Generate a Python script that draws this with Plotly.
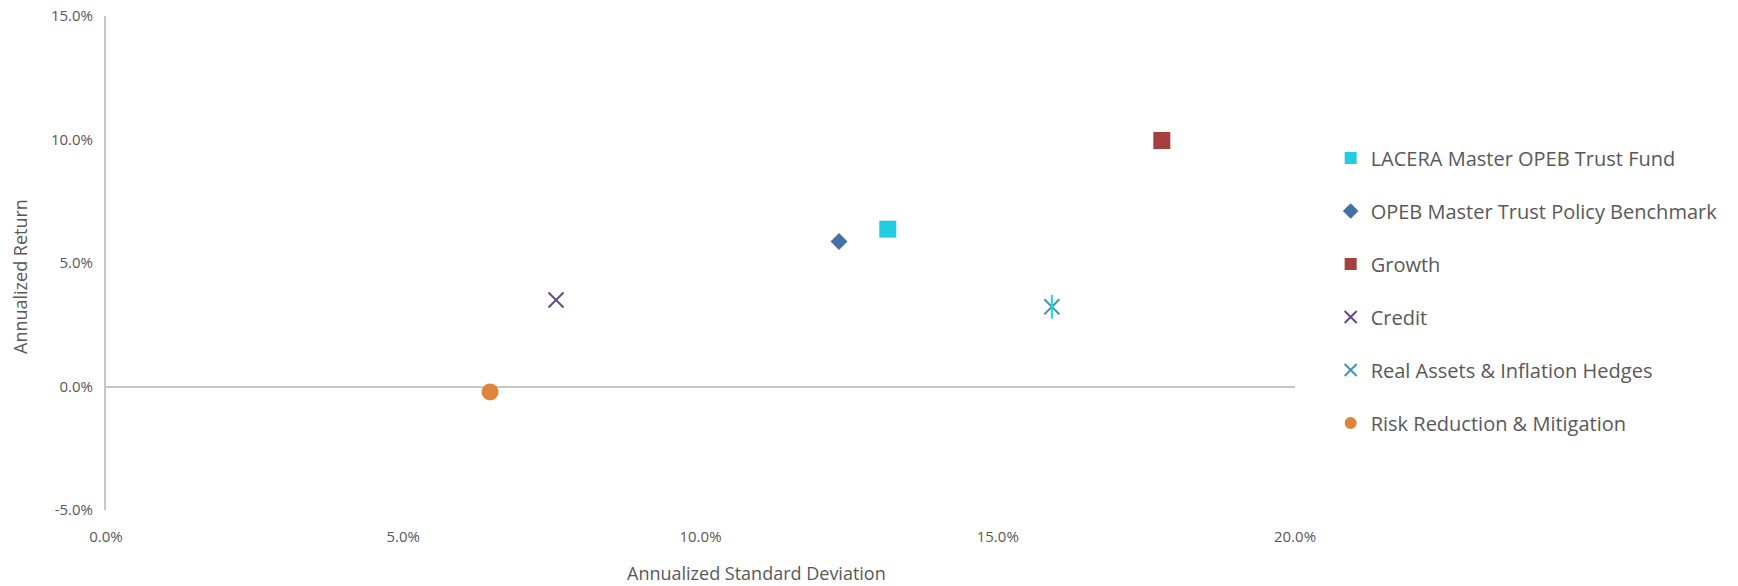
import plotly.graph_objects as go

# risk / return points (annualized std dev, annualized return)
names = ["LACERA Master OPEB Trust Fund", "OPEB Master Trust Policy Benchmark",
         "Growth", "Credit", "Real Assets & Inflation Hedges",
         "Risk Reduction & Mitigation"]
std_dev = [0.1315, 0.1233, 0.1776, 0.0757, 0.1591, 0.0646]
ret = [0.0637, 0.0587, 0.0996, 0.0350, 0.0323, -0.0022]

x_ticks = [0, 0.05, 0.10, 0.15, 0.20]
y_ticks = [-0.05, 0, 0.05, 0.10, 0.15]

colors = ["#22CCE3", "#4472A8", "#A5403F", "#654A88", "#4396AD", "#DE843C"]
symbols = ["square", "diamond", "square", "x-thin-open", "x-thin-open", "circle"]
sizes = [17, 13, 17, 15, 15, 17]

GRAY = "#595959"
LINE = "#C6C6C6"
FONT = "Open Sans"


def pct(v):
    return f"{v * 100:.1f}%"


fig = go.Figure()
for i, n in enumerate(names):
    fig.add_trace(go.Scatter(
        x=[std_dev[i]], y=[ret[i]], name=n, mode="markers", legendgroup=n,
        marker=dict(symbol=symbols[i], size=sizes[i], color=colors[i],
                    line=dict(color=colors[i], width=2 if "open" in symbols[i] else 0))
    ))
    if n.startswith("Real Assets"):
        # vertical stroke to make the star marker
        fig.add_trace(go.Scatter(
            x=[std_dev[i]], y=[ret[i]], mode="markers", showlegend=False,
            legendgroup=n, hoverinfo="skip",
            marker=dict(symbol="line-ns-open", size=sizes[i] + 2,
                        line=dict(color=colors[i], width=2))
        ))

fig.update_xaxes(range=[0, 0.2], tickvals=x_ticks, ticktext=[pct(v) for v in x_ticks],
                 showgrid=False, zeroline=False, showline=False, automargin=False,
                 ticklabelstandoff=16, ticklabeloverflow="allow",
                 tickfont=dict(family=FONT, size=15, color=GRAY))
fig.update_yaxes(range=[-0.05, 0.15], tickvals=y_ticks, ticktext=[pct(v) for v in y_ticks],
                 showgrid=False, zeroline=True, zerolinecolor=LINE, zerolinewidth=2,
                 showline=True, linecolor=LINE, linewidth=2, automargin=False,
                 ticklabelstandoff=8, ticklabeloverflow="allow",
                 tickfont=dict(family=FONT, size=15, color=GRAY))

fig.update_layout(
    width=1738, height=586,
    margin=dict(l=106, r=443, t=16, b=76),
    plot_bgcolor="white", paper_bgcolor="white",
    font=dict(family=FONT, color=GRAY),
    showlegend=True,
    legend=dict(x=1.03, y=0.752, xanchor="left", yanchor="top",
                font=dict(family=FONT, size=20, color=GRAY),
                tracegroupgap=24, itemsizing="constant"),
    annotations=[
        dict(text="Annualized Standard Deviation", xref="paper", yref="paper",
             x=(756 - 106) / 1189, y=-(573 - 510) / 494, yanchor="middle", showarrow=False,
             font=dict(family=FONT, size=18, color=GRAY)),
        dict(text="Annualized Return", xref="paper", yref="paper",
             x=-(106 - 20) / 1189, y=(510 - 277) / 494, textangle=-90, showarrow=False,
             xanchor="center", yanchor="middle",
             font=dict(family=FONT, size=18, color=GRAY)),
    ],
)

fig.write_html("out.html", config={"displayModeBar": False},
               post_script="document.body.style.margin='0';")
